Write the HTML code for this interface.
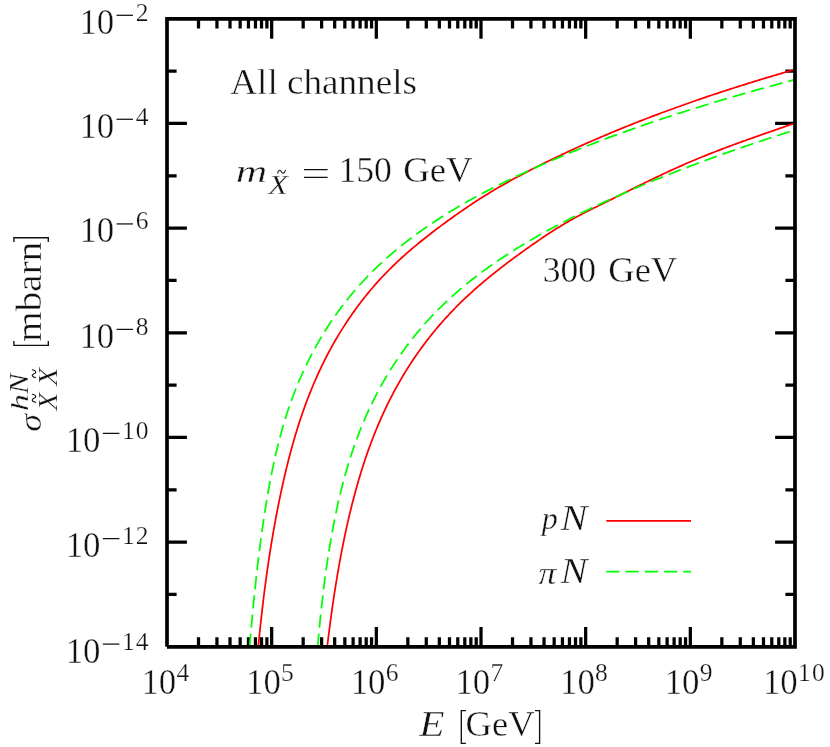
<!DOCTYPE html>
<html><head><meta charset="utf-8"><title>plot</title>
<style>html,body{margin:0;padding:0;background:#fff}svg{display:block;will-change:transform;-webkit-font-smoothing:antialiased}</style>
</head><body>
<svg width="830" height="747" viewBox="0 0 830 747">
<rect width="830" height="747" fill="#fff"/>
<defs><clipPath id="c"><rect x="167.0" y="18.8" width="628.0" height="628.0"/></clipPath></defs>
<path d="M198.51,646.8v-9.6M198.51,18.8v9.6M216.94,646.8v-9.6M216.94,18.8v9.6M230.02,646.8v-9.6M230.02,18.8v9.6M240.16,646.8v-9.6M240.16,18.8v9.6M248.45,646.8v-9.6M248.45,18.8v9.6M255.45,646.8v-9.6M255.45,18.8v9.6M261.52,646.8v-9.6M261.52,18.8v9.6M266.88,646.8v-9.6M266.88,18.8v9.6M271.67,646.8v-19.9M271.67,18.8v19.9M303.17,646.8v-9.6M303.17,18.8v9.6M321.61,646.8v-9.6M321.61,18.8v9.6M334.68,646.8v-9.6M334.68,18.8v9.6M344.83,646.8v-9.6M344.83,18.8v9.6M353.11,646.8v-9.6M353.11,18.8v9.6M360.12,646.8v-9.6M360.12,18.8v9.6M366.19,646.8v-9.6M366.19,18.8v9.6M371.54,646.8v-9.6M371.54,18.8v9.6M376.33,646.8v-19.9M376.33,18.8v19.9M407.84,646.8v-9.6M407.84,18.8v9.6M426.27,646.8v-9.6M426.27,18.8v9.6M439.35,646.8v-9.6M439.35,18.8v9.6M449.49,646.8v-9.6M449.49,18.8v9.6M457.78,646.8v-9.6M457.78,18.8v9.6M464.79,646.8v-9.6M464.79,18.8v9.6M470.86,646.8v-9.6M470.86,18.8v9.6M476.21,646.8v-9.6M476.21,18.8v9.6M481.00,646.8v-19.9M481.00,18.8v19.9M512.51,646.8v-9.6M512.51,18.8v9.6M530.94,646.8v-9.6M530.94,18.8v9.6M544.02,646.8v-9.6M544.02,18.8v9.6M554.16,646.8v-9.6M554.16,18.8v9.6M562.45,646.8v-9.6M562.45,18.8v9.6M569.45,646.8v-9.6M569.45,18.8v9.6M575.52,646.8v-9.6M575.52,18.8v9.6M580.88,646.8v-9.6M580.88,18.8v9.6M585.67,646.8v-19.9M585.67,18.8v19.9M617.17,646.8v-9.6M617.17,18.8v9.6M635.61,646.8v-9.6M635.61,18.8v9.6M648.68,646.8v-9.6M648.68,18.8v9.6M658.83,646.8v-9.6M658.83,18.8v9.6M667.11,646.8v-9.6M667.11,18.8v9.6M674.12,646.8v-9.6M674.12,18.8v9.6M680.19,646.8v-9.6M680.19,18.8v9.6M685.54,646.8v-9.6M685.54,18.8v9.6M690.33,646.8v-19.9M690.33,18.8v19.9M721.84,646.8v-9.6M721.84,18.8v9.6M740.27,646.8v-9.6M740.27,18.8v9.6M753.35,646.8v-9.6M753.35,18.8v9.6M763.49,646.8v-9.6M763.49,18.8v9.6M771.78,646.8v-9.6M771.78,18.8v9.6M778.79,646.8v-9.6M778.79,18.8v9.6M784.86,646.8v-9.6M784.86,18.8v9.6M790.21,646.8v-9.6M790.21,18.8v9.6M167.0,71.13h9.6M795.0,71.13h-9.6M167.0,123.47h19.9M795.0,123.47h-19.9M167.0,175.80h9.6M795.0,175.80h-9.6M167.0,228.13h19.9M795.0,228.13h-19.9M167.0,280.47h9.6M795.0,280.47h-9.6M167.0,332.80h19.9M795.0,332.80h-19.9M167.0,385.13h9.6M795.0,385.13h-9.6M167.0,437.47h19.9M795.0,437.47h-19.9M167.0,489.80h9.6M795.0,489.80h-9.6M167.0,542.13h19.9M795.0,542.13h-19.9M167.0,594.47h9.6M795.0,594.47h-9.6" stroke="#000" stroke-width="3.25" fill="none"/>
<g clip-path="url(#c)" fill="none" stroke-width="1.75">
<path d="M258.30,646.80 L258.43,645.37 L258.68,642.77 L258.94,640.18 L259.19,637.60 L259.45,635.01 L259.71,632.43 L259.98,629.86 L260.25,627.28 L260.52,624.72 L260.80,622.15 L261.08,619.59 L261.36,617.03 L261.65,614.47 L261.94,611.92 L262.23,609.37 L262.53,606.83 L262.83,604.29 L263.14,601.75 L263.44,599.22 L263.76,596.69 L264.07,594.16 L264.39,591.64 L264.72,589.12 L265.04,586.61 L265.38,584.10 L265.71,581.59 L266.05,579.09 L266.39,576.59 L266.74,574.09 L267.09,571.60 L267.45,569.12 L267.81,566.63 L268.17,564.16 L268.54,561.68 L268.91,559.21 L269.29,556.74 L269.67,554.28 L270.05,551.82 L270.44,549.37 L270.83,546.92 L271.23,544.48 L271.63,542.03 L272.03,539.60 L272.44,537.17 L272.86,534.74 L273.28,532.31 L273.70,529.90 L274.13,527.48 L274.56,525.07 L275.00,522.67 L275.44,520.26 L275.88,517.87 L276.33,515.48 L276.79,513.09 L277.25,510.71 L277.71,508.33 L278.18,505.95 L278.65,503.59 L279.13,501.22 L279.61,498.86 L280.10,496.51 L280.60,494.16 L281.09,491.81 L281.60,489.47 L282.10,487.14 L282.62,484.81 L283.13,482.49 L283.66,480.17 L284.19,477.86 L284.72,475.55 L285.26,473.25 L285.81,470.95 L286.36,468.66 L286.92,466.38 L287.48,464.10 L288.05,461.83 L288.63,459.56 L289.21,457.30 L289.80,455.05 L290.40,452.80 L291.00,450.56 L291.61,448.33 L292.22,446.10 L292.84,443.88 L293.47,441.67 L294.11,439.46 L294.75,437.26 L295.40,435.07 L296.06,432.88 L296.72,430.70 L297.39,428.53 L298.07,426.37 L298.76,424.21 L299.45,422.06 L300.15,419.92 L300.86,417.79 L301.58,415.67 L302.30,413.55 L303.04,411.44 L303.78,409.34 L304.53,407.25 L305.28,405.16 L306.05,403.09 L306.82,401.02 L307.61,398.96 L308.40,396.91 L309.19,394.86 L310.00,392.83 L310.82,390.80 L311.64,388.78 L312.47,386.77 L313.31,384.77 L314.16,382.78 L315.02,380.79 L315.88,378.81 L316.75,376.84 L317.64,374.88 L318.53,372.93 L319.43,370.99 L320.33,369.05 L321.25,367.13 L322.17,365.21 L323.10,363.30 L324.04,361.40 L324.99,359.50 L325.95,357.62 L326.92,355.74 L327.89,353.88 L328.88,352.02 L329.87,350.17 L330.87,348.33 L331.88,346.49 L332.89,344.67 L333.92,342.85 L334.95,341.04 L336.00,339.24 L337.05,337.45 L338.11,335.67 L339.18,333.90 L340.26,332.14 L341.34,330.38 L342.44,328.63 L343.54,326.89 L344.65,325.16 L345.77,323.44 L346.90,321.73 L348.04,320.02 L349.18,318.33 L350.34,316.64 L351.50,314.96 L352.67,313.29 L353.85,311.63 L355.04,309.97 L356.24,308.33 L357.45,306.69 L358.66,305.07 L359.88,303.45 L361.11,301.83 L362.35,300.23 L363.60,298.64 L364.86,297.05 L366.12,295.48 L367.40,293.91 L368.68,292.35 L369.97,290.80 L371.27,289.25 L372.58,287.72 L373.89,286.19 L375.22,284.68 L376.55,283.17 L377.90,281.67 L379.25,280.18 L380.61,278.70 L381.98,277.22 L383.35,275.76 L384.74,274.30 L386.13,272.85 L387.54,271.42 L388.95,269.99 L390.37,268.57 L391.80,267.15 L393.24,265.75 L394.68,264.35 L396.14,262.97 L397.60,261.58 L399.07,260.21 L400.55,258.85 L402.03,257.49 L403.53,256.14 L405.03,254.80 L406.53,253.46 L408.05,252.14 L409.57,250.81 L411.09,249.50 L412.63,248.19 L414.17,246.89 L415.72,245.59 L417.27,244.31 L418.83,243.02 L420.39,241.75 L421.96,240.47 L423.54,239.21 L425.12,237.95 L426.71,236.69 L428.30,235.45 L429.90,234.20 L431.50,232.96 L433.11,231.73 L434.73,230.50 L436.34,229.27 L437.97,228.05 L439.59,226.84 L441.22,225.63 L442.86,224.42 L444.50,223.22 L446.14,222.02 L447.79,220.82 L449.44,219.63 L451.09,218.44 L452.75,217.26 L454.41,216.07 L456.07,214.90 L457.74,213.72 L459.41,212.55 L461.08,211.38 L462.76,210.22 L464.45,209.06 L466.13,207.91 L467.83,206.76 L469.52,205.61 L471.23,204.47 L472.93,203.34 L474.65,202.21 L476.37,201.09 L478.09,199.97 L479.82,198.86 L481.56,197.75 L483.30,196.65 L485.05,195.56 L486.80,194.47 L488.56,193.39 L490.33,192.31 L492.10,191.24 L493.88,190.18 L495.66,189.12 L497.46,188.07 L499.25,187.03 L501.05,185.98 L502.86,184.95 L504.67,183.92 L506.49,182.90 L508.31,181.88 L510.14,180.86 L511.97,179.85 L513.81,178.85 L515.65,177.85 L517.50,176.85 L519.35,175.86 L521.21,174.88 L523.07,173.89 L524.93,172.92 L526.80,171.94 L528.67,170.97 L530.55,170.01 L532.43,169.05 L534.31,168.09 L536.20,167.13 L538.09,166.18 L539.99,165.23 L541.88,164.29 L543.78,163.35 L545.69,162.41 L547.60,161.47 L549.51,160.54 L551.42,159.61 L553.34,158.69 L555.25,157.77 L557.18,156.85 L559.10,155.93 L561.03,155.02 L562.96,154.11 L564.90,153.20 L566.84,152.29 L568.78,151.39 L570.72,150.50 L572.67,149.60 L574.62,148.71 L576.57,147.82 L578.53,146.93 L580.49,146.05 L582.45,145.17 L584.41,144.29 L586.38,143.42 L588.35,142.55 L590.33,141.68 L592.30,140.81 L594.28,139.95 L596.26,139.09 L598.25,138.23 L600.24,137.38 L602.23,136.53 L604.22,135.68 L606.22,134.83 L608.22,133.99 L610.22,133.15 L612.23,132.31 L614.23,131.48 L616.24,130.65 L618.26,129.82 L620.27,128.99 L622.29,128.17 L624.31,127.35 L626.34,126.53 L628.37,125.72 L630.40,124.91 L632.43,124.10 L634.46,123.29 L636.50,122.49 L638.54,121.68 L640.59,120.89 L642.63,120.09 L644.68,119.30 L646.73,118.50 L648.78,117.72 L650.84,116.93 L652.90,116.15 L654.96,115.37 L657.03,114.59 L659.09,113.81 L661.16,113.04 L663.23,112.27 L665.31,111.50 L667.39,110.74 L669.47,109.98 L671.55,109.22 L673.63,108.46 L675.72,107.70 L677.81,106.95 L679.90,106.20 L682.00,105.45 L684.09,104.71 L686.19,103.97 L688.29,103.22 L690.40,102.49 L692.50,101.75 L694.61,101.02 L696.72,100.29 L698.84,99.56 L700.95,98.83 L703.07,98.11 L705.19,97.39 L707.32,96.67 L709.44,95.95 L711.57,95.24 L713.70,94.53 L715.83,93.82 L717.97,93.11 L720.10,92.40 L722.24,91.70 L724.38,91.00 L726.53,90.30 L728.67,89.61 L730.82,88.91 L732.97,88.22 L735.13,87.53 L737.28,86.84 L739.44,86.16 L741.60,85.48 L743.76,84.80 L745.92,84.12 L748.09,83.44 L750.26,82.77 L752.43,82.09 L754.60,81.42 L756.77,80.76 L758.95,80.09 L761.13,79.43 L763.31,78.76 L765.49,78.10 L767.67,77.45 L769.86,76.79 L772.05,76.14 L774.24,75.49 L776.43,74.84 L778.63,74.19 L780.82,73.54 L783.02,72.90 L785.22,72.26 L787.42,71.62 L789.63,70.98 L791.83,70.35 L794.04,69.71 L795.00,69.44" stroke="#ff0000"/>
<path d="M249.62,646.80 L249.75,645.20 L249.97,642.58 L250.19,639.96 L250.41,637.35 L250.64,634.73 L250.86,632.12 L251.09,629.51 L251.32,626.91 L251.56,624.30 L251.79,621.70 L252.03,619.10 L252.27,616.51 L252.52,613.91 L252.76,611.32 L253.01,608.73 L253.26,606.14 L253.51,603.56 L253.77,600.98 L254.03,598.40 L254.29,595.82 L254.56,593.25 L254.82,590.68 L255.09,588.11 L255.37,585.54 L255.64,582.98 L255.92,580.42 L256.20,577.87 L256.49,575.31 L256.78,572.77 L257.07,570.22 L257.36,567.68 L257.66,565.14 L257.96,562.60 L258.27,560.07 L258.57,557.54 L258.88,555.01 L259.20,552.49 L259.52,549.97 L259.84,547.45 L260.16,544.94 L260.49,542.43 L260.83,539.92 L261.16,537.42 L261.50,534.92 L261.85,532.43 L262.19,529.94 L262.55,527.45 L262.90,524.97 L263.26,522.49 L263.62,520.02 L263.99,517.55 L264.37,515.08 L264.74,512.62 L265.13,510.17 L265.51,507.72 L265.91,505.27 L266.30,502.83 L266.71,500.40 L267.11,497.97 L267.53,495.54 L267.95,493.13 L268.37,490.71 L268.80,488.31 L269.24,485.90 L269.68,483.51 L270.13,481.12 L270.59,478.74 L271.05,476.36 L271.52,473.99 L271.99,471.63 L272.48,469.28 L272.97,466.93 L273.46,464.59 L273.97,462.25 L274.48,459.93 L275.00,457.61 L275.52,455.29 L276.06,452.99 L276.60,450.69 L277.15,448.41 L277.70,446.12 L278.27,443.85 L278.84,441.59 L279.43,439.33 L280.02,437.09 L280.62,434.85 L281.23,432.62 L281.84,430.40 L282.47,428.19 L283.11,425.99 L283.75,423.79 L284.40,421.61 L285.07,419.44 L285.74,417.27 L286.43,415.12 L287.12,412.97 L287.82,410.84 L288.53,408.71 L289.26,406.59 L289.99,404.49 L290.73,402.39 L291.48,400.30 L292.24,398.23 L293.01,396.16 L293.79,394.10 L294.58,392.05 L295.38,390.01 L296.18,387.98 L297.00,385.96 L297.83,383.95 L298.66,381.95 L299.51,379.96 L300.37,377.98 L301.23,376.00 L302.10,374.04 L302.99,372.08 L303.88,370.14 L304.78,368.20 L305.69,366.28 L306.61,364.36 L307.54,362.45 L308.48,360.55 L309.43,358.66 L310.39,356.78 L311.36,354.91 L312.33,353.05 L313.32,351.20 L314.31,349.36 L315.32,347.52 L316.33,345.70 L317.35,343.88 L318.38,342.07 L319.42,340.28 L320.47,338.49 L321.53,336.71 L322.60,334.94 L323.68,333.18 L324.76,331.43 L325.86,329.68 L326.96,327.95 L328.07,326.22 L329.20,324.51 L330.33,322.80 L331.47,321.10 L332.62,319.41 L333.77,317.73 L334.94,316.06 L336.11,314.40 L337.30,312.75 L338.49,311.10 L339.69,309.47 L340.90,307.84 L342.12,306.22 L343.35,304.61 L344.59,303.01 L345.84,301.42 L347.09,299.84 L348.35,298.26 L349.63,296.70 L350.91,295.14 L352.20,293.59 L353.49,292.05 L354.80,290.52 L356.12,289.00 L357.44,287.48 L358.77,285.98 L360.12,284.48 L361.47,282.99 L362.82,281.51 L364.19,280.04 L365.57,278.58 L366.95,277.13 L368.34,275.68 L369.74,274.25 L371.15,272.82 L372.57,271.40 L374.00,269.99 L375.43,268.58 L376.88,267.19 L378.33,265.80 L379.79,264.42 L381.26,263.05 L382.73,261.69 L384.22,260.34 L385.71,258.99 L387.21,257.66 L388.72,256.33 L390.23,255.00 L391.75,253.69 L393.29,252.38 L394.82,251.08 L396.37,249.79 L397.92,248.51 L399.49,247.23 L401.05,245.96 L402.63,244.70 L404.21,243.44 L405.80,242.20 L407.40,240.96 L409.01,239.72 L410.62,238.50 L412.24,237.28 L413.86,236.07 L415.50,234.86 L417.13,233.66 L418.78,232.47 L420.43,231.29 L422.09,230.11 L423.76,228.94 L425.43,227.77 L427.11,226.61 L428.80,225.46 L430.49,224.31 L432.19,223.17 L433.89,222.04 L435.60,220.91 L437.32,219.79 L439.04,218.68 L440.77,217.57 L442.50,216.47 L444.24,215.37 L445.99,214.28 L447.74,213.19 L449.50,212.11 L451.26,211.04 L453.03,209.97 L454.81,208.90 L456.59,207.85 L458.37,206.79 L460.17,205.75 L461.96,204.71 L463.76,203.67 L465.57,202.64 L467.38,201.61 L469.20,200.59 L471.02,199.58 L472.85,198.56 L474.68,197.56 L476.52,196.56 L478.36,195.56 L480.20,194.57 L482.05,193.58 L483.91,192.60 L485.77,191.62 L487.63,190.65 L489.50,189.68 L491.38,188.71 L493.25,187.75 L495.13,186.80 L497.02,185.85 L498.91,184.90 L500.80,183.95 L502.70,183.01 L504.61,182.08 L506.51,181.15 L508.42,180.22 L510.33,179.30 L512.25,178.37 L514.17,177.46 L516.10,176.55 L518.03,175.64 L519.96,174.73 L521.89,173.83 L523.83,172.93 L525.77,172.03 L527.72,171.14 L529.67,170.25 L531.62,169.36 L533.57,168.48 L535.53,167.60 L537.49,166.72 L539.46,165.85 L541.43,164.98 L543.40,164.11 L545.37,163.25 L547.35,162.39 L549.33,161.53 L551.31,160.68 L553.30,159.82 L555.28,158.97 L557.28,158.13 L559.27,157.29 L561.27,156.45 L563.27,155.61 L565.28,154.78 L567.28,153.94 L569.29,153.12 L571.30,152.29 L573.32,151.47 L575.34,150.65 L577.36,149.83 L579.39,149.02 L581.41,148.21 L583.44,147.40 L585.48,146.60 L587.51,145.80 L589.55,145.00 L591.59,144.20 L593.64,143.41 L595.68,142.62 L597.73,141.83 L599.79,141.04 L601.84,140.26 L603.90,139.48 L605.96,138.70 L608.02,137.93 L610.09,137.16 L612.16,136.39 L614.23,135.62 L616.30,134.86 L618.38,134.10 L620.46,133.34 L622.54,132.58 L624.62,131.83 L626.71,131.08 L628.80,130.33 L630.89,129.58 L632.99,128.84 L635.08,128.10 L637.18,127.36 L639.29,126.62 L641.39,125.89 L643.50,125.16 L645.61,124.43 L647.72,123.70 L649.83,122.98 L651.95,122.26 L654.07,121.54 L656.19,120.82 L658.31,120.11 L660.44,119.40 L662.57,118.69 L664.70,117.98 L666.83,117.28 L668.97,116.57 L671.10,115.87 L673.24,115.18 L675.38,114.48 L677.53,113.79 L679.68,113.09 L681.82,112.41 L683.97,111.72 L686.13,111.03 L688.28,110.35 L690.44,109.67 L692.60,108.99 L694.76,108.32 L696.93,107.64 L699.09,106.97 L701.26,106.30 L703.43,105.63 L705.60,104.97 L707.78,104.30 L709.95,103.64 L712.13,102.98 L714.31,102.32 L716.49,101.67 L718.68,101.01 L720.86,100.36 L723.05,99.71 L725.24,99.06 L727.43,98.42 L729.63,97.77 L731.82,97.13 L734.02,96.49 L736.22,95.85 L738.42,95.22 L740.62,94.58 L742.83,93.95 L745.03,93.32 L747.24,92.69 L749.45,92.06 L751.67,91.44 L753.88,90.81 L756.09,90.19 L758.31,89.57 L760.53,88.95 L762.75,88.33 L764.97,87.72 L767.20,87.10 L769.42,86.49 L771.65,85.88 L773.88,85.27 L776.11,84.67 L778.34,84.06 L780.58,83.46 L782.81,82.85 L785.05,82.25 L787.29,81.65 L789.53,81.06 L791.77,80.46 L794.01,79.86 L795.00,79.60" stroke="#00ff00" stroke-dasharray="13.2 6.04"/>
<path d="M327.17,646.80 L327.44,644.56 L327.72,642.30 L328.00,640.04 L328.28,637.78 L328.56,635.53 L328.85,633.28 L329.14,631.03 L329.43,628.78 L329.72,626.54 L330.02,624.30 L330.32,622.06 L330.62,619.82 L330.92,617.59 L331.23,615.36 L331.54,613.13 L331.85,610.91 L332.17,608.68 L332.49,606.47 L332.81,604.25 L333.13,602.04 L333.46,599.83 L333.79,597.62 L334.13,595.42 L334.46,593.22 L334.80,591.02 L335.15,588.83 L335.49,586.64 L335.85,584.45 L336.20,582.27 L336.56,580.09 L336.92,577.91 L337.28,575.74 L337.65,573.57 L338.02,571.40 L338.40,569.24 L338.78,567.08 L339.16,564.93 L339.54,562.78 L339.93,560.63 L340.33,558.49 L340.73,556.35 L341.13,554.21 L341.53,552.08 L341.94,549.95 L342.36,547.83 L342.78,545.71 L343.20,543.60 L343.63,541.48 L344.06,539.38 L344.49,537.28 L344.93,535.18 L345.38,533.08 L345.82,531.00 L346.28,528.91 L346.73,526.83 L347.20,524.76 L347.66,522.68 L348.13,520.62 L348.61,518.56 L349.09,516.50 L349.57,514.45 L350.06,512.40 L350.56,510.36 L351.06,508.32 L351.56,506.29 L352.07,504.26 L352.59,502.24 L353.11,500.22 L353.63,498.20 L354.16,496.20 L354.70,494.19 L355.24,492.20 L355.78,490.21 L356.33,488.22 L356.89,486.24 L357.45,484.26 L358.02,482.29 L358.59,480.33 L359.17,478.37 L359.75,476.41 L360.34,474.46 L360.93,472.52 L361.53,470.58 L362.14,468.65 L362.75,466.73 L363.37,464.81 L363.99,462.89 L364.62,460.98 L365.25,459.08 L365.89,457.18 L366.54,455.29 L367.19,453.41 L367.85,451.53 L368.52,449.66 L369.19,447.79 L369.87,445.93 L370.55,444.08 L371.24,442.23 L371.94,440.39 L372.64,438.56 L373.35,436.73 L374.06,434.91 L374.79,433.09 L375.51,431.28 L376.25,429.48 L376.99,427.68 L377.74,425.89 L378.49,424.11 L379.26,422.34 L380.02,420.57 L380.80,418.81 L381.58,417.05 L382.37,415.30 L383.16,413.56 L383.97,411.82 L384.77,410.09 L385.59,408.37 L386.41,406.66 L387.24,404.95 L388.07,403.24 L388.92,401.55 L389.76,399.86 L390.62,398.18 L391.48,396.50 L392.35,394.83 L393.22,393.17 L394.11,391.51 L394.99,389.86 L395.89,388.22 L396.79,386.59 L397.70,384.96 L398.61,383.33 L399.53,381.72 L400.46,380.11 L401.40,378.50 L402.34,376.91 L403.28,375.32 L404.24,373.74 L405.20,372.16 L406.17,370.59 L407.14,369.03 L408.12,367.47 L409.11,365.92 L410.10,364.38 L411.10,362.84 L412.11,361.31 L413.13,359.79 L414.15,358.27 L415.17,356.76 L416.21,355.26 L417.25,353.76 L418.29,352.27 L419.35,350.78 L420.41,349.31 L421.47,347.84 L422.55,346.37 L423.63,344.91 L424.71,343.46 L425.81,342.02 L426.90,340.58 L428.01,339.15 L429.12,337.72 L430.24,336.31 L431.37,334.89 L432.50,333.49 L433.64,332.09 L434.78,330.70 L435.93,329.31 L437.09,327.93 L438.25,326.56 L439.42,325.19 L440.60,323.83 L441.78,322.47 L442.97,321.13 L444.17,319.78 L445.37,318.45 L446.58,317.12 L447.79,315.80 L449.02,314.48 L450.24,313.17 L451.48,311.87 L452.72,310.57 L453.96,309.28 L455.22,308.00 L456.48,306.72 L457.74,305.45 L459.01,304.18 L460.29,302.92 L461.58,301.67 L462.87,300.42 L464.16,299.18 L465.47,297.95 L466.77,296.72 L468.09,295.49 L469.41,294.28 L470.73,293.06 L472.06,291.86 L473.40,290.66 L474.74,289.46 L476.09,288.27 L477.44,287.09 L478.80,285.91 L480.16,284.73 L481.53,283.56 L482.90,282.40 L484.28,281.24 L485.66,280.08 L487.05,278.93 L488.44,277.78 L489.83,276.64 L491.23,275.50 L492.64,274.37 L494.04,273.24 L495.46,272.11 L496.87,270.99 L498.29,269.88 L499.72,268.76 L501.14,267.65 L502.57,266.55 L504.01,265.44 L505.45,264.35 L506.89,263.25 L508.34,262.16 L509.78,261.07 L511.24,259.98 L512.69,258.90 L514.15,257.82 L515.61,256.75 L517.07,255.67 L518.54,254.60 L520.01,253.53 L521.48,252.47 L522.95,251.40 L524.43,250.34 L525.91,249.28 L527.39,248.23 L528.87,247.17 L530.36,246.12 L531.85,245.07 L533.34,244.03 L534.84,242.99 L536.34,241.95 L537.84,240.91 L539.34,239.88 L540.86,238.86 L542.37,237.83 L543.89,236.81 L545.41,235.80 L546.94,234.79 L548.47,233.78 L550.01,232.78 L551.55,231.79 L553.10,230.80 L554.65,229.81 L556.21,228.83 L557.77,227.86 L559.34,226.89 L560.91,225.93 L562.50,224.97 L564.08,224.02 L565.68,223.08 L567.28,222.14 L568.89,221.21 L570.50,220.29 L572.12,219.38 L573.75,218.47 L575.39,217.57 L577.03,216.67 L578.68,215.79 L580.34,214.91 L582.01,214.04 L583.68,213.17 L585.36,212.32 L587.05,211.46 L588.73,210.62 L590.43,209.77 L592.12,208.93 L593.82,208.09 L595.52,207.25 L597.22,206.42 L598.92,205.58 L600.62,204.74 L602.32,203.90 L604.02,203.06 L605.71,202.22 L607.41,201.38 L609.10,200.54 L610.80,199.69 L612.49,198.85 L614.18,198.01 L615.88,197.16 L617.57,196.32 L619.26,195.47 L620.96,194.63 L622.65,193.79 L624.35,192.94 L626.04,192.10 L627.73,191.26 L629.43,190.41 L631.13,189.57 L632.82,188.73 L634.52,187.89 L636.22,187.05 L637.92,186.21 L639.62,185.38 L641.32,184.54 L643.02,183.71 L644.73,182.87 L646.43,182.04 L648.14,181.21 L649.85,180.38 L651.56,179.56 L653.27,178.73 L654.99,177.91 L656.70,177.09 L658.42,176.27 L660.14,175.46 L661.87,174.64 L663.59,173.83 L665.32,173.02 L667.05,172.22 L668.79,171.41 L670.52,170.61 L672.26,169.82 L674.01,169.02 L675.75,168.23 L677.50,167.44 L679.26,166.66 L681.01,165.88 L682.77,165.10 L684.54,164.32 L686.30,163.55 L688.07,162.79 L689.85,162.03 L691.63,161.27 L693.41,160.51 L695.20,159.76 L696.99,159.02 L698.78,158.27 L700.58,157.53 L702.38,156.80 L704.19,156.07 L706.00,155.34 L707.81,154.61 L709.62,153.89 L711.44,153.17 L713.27,152.46 L715.09,151.75 L716.92,151.04 L718.75,150.33 L720.59,149.63 L722.42,148.93 L724.26,148.23 L726.10,147.54 L727.95,146.84 L729.80,146.15 L731.65,145.47 L733.50,144.78 L735.35,144.10 L737.21,143.42 L739.07,142.74 L740.93,142.06 L742.80,141.39 L744.66,140.72 L746.53,140.05 L748.40,139.38 L750.27,138.71 L752.14,138.05 L754.01,137.38 L755.89,136.72 L757.76,136.06 L759.64,135.40 L761.52,134.74 L763.40,134.08 L765.28,133.43 L767.16,132.77 L769.04,132.12 L770.93,131.46 L772.81,130.81 L774.70,130.16 L776.58,129.51 L778.47,128.85 L780.36,128.20 L782.24,127.55 L784.13,126.90 L786.02,126.25 L787.91,125.60 L789.79,124.95 L791.68,124.30 L793.57,123.65 L795.00,123.16" stroke="#ff0000"/>
<path d="M317.68,646.80 L317.69,646.62 L317.89,644.28 L318.10,641.94 L318.31,639.60 L318.52,637.27 L318.73,634.94 L318.95,632.61 L319.16,630.28 L319.38,627.96 L319.61,625.64 L319.84,623.32 L320.07,621.01 L320.30,618.70 L320.53,616.39 L320.77,614.09 L321.02,611.79 L321.26,609.49 L321.51,607.19 L321.76,604.90 L322.02,602.61 L322.28,600.33 L322.54,598.05 L322.80,595.77 L323.07,593.50 L323.35,591.23 L323.62,588.96 L323.91,586.70 L324.19,584.44 L324.48,582.18 L324.77,579.93 L325.07,577.68 L325.37,575.44 L325.67,573.20 L325.98,570.97 L326.29,568.74 L326.61,566.51 L326.93,564.29 L327.26,562.07 L327.59,559.86 L327.92,557.65 L328.26,555.44 L328.60,553.24 L328.95,551.05 L329.31,548.86 L329.66,546.67 L330.03,544.49 L330.39,542.31 L330.77,540.14 L331.14,537.98 L331.52,535.81 L331.91,533.66 L332.30,531.51 L332.70,529.36 L333.10,527.22 L333.51,525.08 L333.92,522.95 L334.34,520.83 L334.77,518.71 L335.20,516.59 L335.63,514.48 L336.07,512.38 L336.52,510.28 L336.97,508.19 L337.43,506.11 L337.89,504.03 L338.36,501.95 L338.83,499.88 L339.32,497.82 L339.80,495.76 L340.30,493.71 L340.80,491.67 L341.30,489.63 L341.81,487.60 L342.33,485.57 L342.85,483.55 L343.38,481.54 L343.92,479.53 L344.46,477.53 L345.01,475.54 L345.57,473.55 L346.13,471.57 L346.70,469.60 L347.28,467.63 L347.86,465.67 L348.45,463.72 L349.05,461.77 L349.66,459.83 L350.27,457.90 L350.88,455.97 L351.51,454.05 L352.14,452.14 L352.78,450.24 L353.43,448.34 L354.08,446.45 L354.74,444.57 L355.41,442.70 L356.09,440.83 L356.77,438.97 L357.47,437.12 L358.16,435.27 L358.87,433.43 L359.58,431.60 L360.30,429.78 L361.03,427.96 L361.77,426.16 L362.51,424.36 L363.26,422.56 L364.02,420.77 L364.78,419.00 L365.55,417.22 L366.33,415.46 L367.12,413.70 L367.91,411.95 L368.71,410.21 L369.52,408.47 L370.33,406.74 L371.15,405.02 L371.98,403.31 L372.82,401.60 L373.66,399.90 L374.52,398.21 L375.37,396.52 L376.24,394.84 L377.11,393.17 L377.99,391.51 L378.88,389.85 L379.77,388.20 L380.67,386.56 L381.58,384.92 L382.49,383.29 L383.42,381.67 L384.35,380.06 L385.28,378.45 L386.23,376.85 L387.18,375.26 L388.13,373.67 L389.10,372.09 L390.07,370.52 L391.05,368.95 L392.03,367.40 L393.03,365.85 L394.02,364.30 L395.03,362.76 L396.04,361.23 L397.06,359.71 L398.09,358.19 L399.13,356.69 L400.17,355.18 L401.22,353.69 L402.27,352.20 L403.33,350.72 L404.40,349.24 L405.48,347.77 L406.56,346.31 L407.65,344.86 L408.75,343.41 L409.85,341.97 L410.96,340.54 L412.08,339.11 L413.20,337.69 L414.33,336.28 L415.47,334.87 L416.61,333.47 L417.76,332.08 L418.92,330.69 L420.08,329.31 L421.26,327.94 L422.43,326.58 L423.62,325.22 L424.81,323.87 L426.01,322.52 L427.21,321.18 L428.42,319.85 L429.64,318.52 L430.87,317.21 L432.10,315.89 L433.34,314.59 L434.58,313.29 L435.84,312.00 L437.09,310.71 L438.36,309.43 L439.63,308.16 L440.91,306.90 L442.19,305.64 L443.49,304.39 L444.78,303.14 L446.09,301.90 L447.40,300.67 L448.72,299.44 L450.04,298.23 L451.37,297.01 L452.71,295.81 L454.05,294.61 L455.40,293.41 L456.76,292.22 L458.12,291.04 L459.49,289.87 L460.87,288.70 L462.25,287.54 L463.63,286.38 L465.03,285.23 L466.42,284.08 L467.83,282.94 L469.24,281.81 L470.65,280.68 L472.08,279.56 L473.50,278.45 L474.94,277.33 L476.37,276.23 L477.82,275.13 L479.27,274.04 L480.72,272.95 L482.18,271.86 L483.65,270.79 L485.12,269.71 L486.60,268.65 L488.08,267.58 L489.56,266.53 L491.05,265.47 L492.55,264.43 L494.05,263.38 L495.56,262.35 L497.07,261.31 L498.59,260.29 L500.11,259.26 L501.63,258.25 L503.16,257.23 L504.70,256.22 L506.24,255.22 L507.78,254.22 L509.33,253.22 L510.88,252.23 L512.44,251.24 L514.00,250.26 L515.56,249.28 L517.13,248.31 L518.71,247.34 L520.28,246.37 L521.87,245.41 L523.45,244.46 L525.04,243.50 L526.64,242.55 L528.23,241.61 L529.84,240.66 L531.44,239.73 L533.05,238.79 L534.66,237.86 L536.28,236.93 L537.90,236.01 L539.52,235.09 L541.15,234.17 L542.78,233.26 L544.41,232.35 L546.05,231.44 L547.69,230.54 L549.33,229.64 L550.98,228.74 L552.63,227.85 L554.28,226.96 L555.94,226.07 L557.60,225.18 L559.26,224.30 L560.92,223.42 L562.59,222.55 L564.26,221.68 L565.94,220.81 L567.62,219.94 L569.30,219.08 L570.98,218.22 L572.67,217.36 L574.36,216.51 L576.05,215.66 L577.74,214.81 L579.44,213.96 L581.14,213.12 L582.85,212.28 L584.55,211.44 L586.26,210.61 L587.97,209.78 L589.69,208.95 L591.41,208.12 L593.13,207.30 L594.85,206.48 L596.57,205.66 L598.30,204.84 L600.03,204.03 L601.77,203.22 L603.50,202.41 L605.24,201.61 L606.98,200.80 L608.73,200.01 L610.47,199.21 L612.22,198.41 L613.97,197.62 L615.73,196.83 L617.48,196.04 L619.24,195.26 L621.00,194.47 L622.76,193.69 L624.53,192.92 L626.30,192.14 L628.07,191.37 L629.84,190.60 L631.62,189.83 L633.39,189.06 L635.17,188.30 L636.95,187.54 L638.74,186.78 L640.52,186.02 L642.31,185.26 L644.10,184.51 L645.90,183.76 L647.69,183.01 L649.49,182.27 L651.29,181.52 L653.09,180.78 L654.90,180.04 L656.70,179.30 L658.51,178.57 L660.32,177.84 L662.13,177.10 L663.95,176.38 L665.76,175.65 L667.58,174.92 L669.40,174.20 L671.23,173.48 L673.05,172.76 L674.88,172.04 L676.71,171.33 L678.54,170.62 L680.37,169.91 L682.21,169.20 L684.04,168.49 L685.88,167.79 L687.72,167.08 L689.57,166.38 L691.41,165.68 L693.26,164.99 L695.11,164.29 L696.96,163.60 L698.81,162.91 L700.66,162.22 L702.52,161.53 L704.37,160.84 L706.23,160.16 L708.10,159.48 L709.96,158.79 L711.82,158.12 L713.69,157.44 L715.56,156.76 L717.43,156.09 L719.30,155.42 L721.17,154.75 L723.05,154.08 L724.92,153.41 L726.80,152.75 L728.68,152.08 L730.56,151.42 L732.45,150.76 L734.33,150.10 L736.22,149.44 L738.11,148.79 L740.00,148.13 L741.89,147.48 L743.78,146.83 L745.67,146.18 L747.57,145.53 L749.47,144.89 L751.36,144.24 L753.26,143.60 L755.17,142.96 L757.07,142.32 L758.97,141.68 L760.88,141.04 L762.79,140.40 L764.70,139.77 L766.61,139.13 L768.52,138.50 L770.43,137.87 L772.34,137.24 L774.26,136.61 L776.18,135.99 L778.10,135.36 L780.02,134.74 L781.94,134.12 L783.86,133.49 L785.78,132.87 L787.71,132.25 L789.63,131.64 L791.56,131.02 L793.49,130.41 L795.00,129.92" stroke="#00ff00" stroke-dasharray="13.2 6.04"/>
</g>
<path d="M167.0,646.8H795.0V18.8H167.0V646.8" fill="none" stroke="#000" stroke-width="3.7" stroke-linejoin="miter" stroke-linecap="butt"/>
<path d="M606.3,520.9H691" stroke="#ff0000" stroke-width="1.75"/>
<path d="M606.3,571.5H691" stroke="#00ff00" stroke-width="1.75" stroke-dasharray="13.2 6.04"/>
<g font-family="'Liberation Serif', serif" fill="#111111" font-size="34.8" stroke="#fff" stroke-width="0.4" paint-order="fill stroke">
<text x="176.20" y="693.7" text-anchor="end">10</text>
<text x="176.40" y="681.0" font-size="25.5" stroke-width="0.25">4</text>
<text x="280.87" y="693.7" text-anchor="end">10</text>
<text x="281.07" y="681.0" font-size="25.5" stroke-width="0.25">5</text>
<text x="385.53" y="693.7" text-anchor="end">10</text>
<text x="385.73" y="681.0" font-size="25.5" stroke-width="0.25">6</text>
<text x="490.20" y="693.7" text-anchor="end">10</text>
<text x="490.40" y="681.0" font-size="25.5" stroke-width="0.25">7</text>
<text x="594.87" y="693.7" text-anchor="end">10</text>
<text x="595.07" y="681.0" font-size="25.5" stroke-width="0.25">8</text>
<text x="699.53" y="693.7" text-anchor="end">10</text>
<text x="699.73" y="681.0" font-size="25.5" stroke-width="0.25">9</text>
<text x="797.70" y="693.7" text-anchor="end">10</text>
<text x="798.00" y="681.0" font-size="25.5" stroke-width="0.25" letter-spacing="1.2">10</text>
<text x="114.2" y="33.70" text-anchor="end">10</text>
<path d="M116.6,15.30H133.0" stroke="#111111" stroke-width="1.25"/>
<text x="148.6" y="20.80" text-anchor="end" font-size="25.5" stroke-width="0.25">2</text>
<text x="114.2" y="137.67" text-anchor="end">10</text>
<path d="M116.6,119.27H133.0" stroke="#111111" stroke-width="1.25"/>
<text x="148.6" y="124.77" text-anchor="end" font-size="25.5" stroke-width="0.25">4</text>
<text x="114.2" y="242.33" text-anchor="end">10</text>
<path d="M116.6,223.93H133.0" stroke="#111111" stroke-width="1.25"/>
<text x="148.6" y="229.43" text-anchor="end" font-size="25.5" stroke-width="0.25">6</text>
<text x="114.2" y="347.80" text-anchor="end">10</text>
<path d="M116.6,329.40H133.0" stroke="#111111" stroke-width="1.25"/>
<text x="148.6" y="334.90" text-anchor="end" font-size="25.5" stroke-width="0.25">8</text>
<text x="100.5" y="451.77" text-anchor="end">10</text>
<path d="M102.8,433.37H119.4" stroke="#111111" stroke-width="1.25"/>
<text x="149.79999999999998" y="438.87" text-anchor="end" font-size="25.5" stroke-width="0.25" letter-spacing="1.2">10</text>
<text x="100.5" y="557.03" text-anchor="end">10</text>
<path d="M102.8,538.63H119.4" stroke="#111111" stroke-width="1.25"/>
<text x="149.79999999999998" y="544.13" text-anchor="end" font-size="25.5" stroke-width="0.25" letter-spacing="1.2">12</text>
<text x="100.5" y="662.50" text-anchor="end">10</text>
<path d="M102.8,644.10H119.4" stroke="#111111" stroke-width="1.25"/>
<text x="149.79999999999998" y="649.60" text-anchor="end" font-size="25.5" stroke-width="0.25" letter-spacing="1.2">14</text>
<text transform="translate(230.23,93.80) scale(1.0680,1.0250)">All channels</text>
<text transform="translate(235.73,182.20) scale(1.2533,0.8800)" font-style="italic">m</text>
<text transform="translate(268.35,193.50) scale(1.2706,1.0388)" font-style="italic" font-size="25.5" stroke-width="0.25">X</text>
<path d="M277.60,173.05C278.52,169.27 280.53,169.67 281.45,171.70S284.38,174.13 285.30,170.35" fill="none" stroke="#111111" stroke-width="1.05" stroke-linecap="round"/>
<path d="M304,169.6H327.6M304,177.3H327.6" stroke="#111111" stroke-width="1.3"/>
<text transform="translate(338.53,182.00) scale(1.0229,1.0348)">150</text>
<text transform="translate(403.21,182.00) scale(1.0573,1.0000)">GeV</text>
<text transform="translate(542.81,282.40) scale(1.0213,1.0348)">300</text>
<text transform="translate(608.22,282.40) scale(1.0510,1.0000)">GeV</text>
<text transform="translate(541.65,529.30) scale(0.9260,0.9200)" font-style="italic">p</text>
<text transform="translate(560.49,529.50) scale(1.1560,1.0330)" font-style="italic">N</text>
<text transform="translate(538.44,583.70) scale(1.0222,0.9000)" font-style="italic">π</text>
<text transform="translate(560.49,583.30) scale(1.1560,1.0374)" font-style="italic">N</text>
<text transform="translate(419.20,735.80) scale(1.1906,1.0066)" font-style="italic">E</text>
<path d="M465.90,710.60H461.30V743.40H465.90" fill="none" stroke="#111111" stroke-width="1.35"/>
<text transform="translate(465.62,735.80) scale(1.0510,1.0000)">GeV</text>
<path d="M535.00,710.60H539.60V743.40H535.00" fill="none" stroke="#111111" stroke-width="1.35"/>
<g transform="translate(40.9,346) rotate(-90)">
<path d="M5.00,-27.00H0.60V7.40H5.00" fill="none" stroke="#111111" stroke-width="1.35"/>
<text transform="translate(4.36,0.00) scale(1.1246,1.0000)">mbarn</text>
<path d="M103.90,-27.00H108.30V7.40H103.90" fill="none" stroke="#111111" stroke-width="1.35"/>
</g>
<g transform="translate(40.9,430.6) rotate(-90)">
<text transform="translate(-1.04,0.00) scale(1.0377,0.9000)" font-style="italic">σ</text>
<text transform="translate(19.45,-12.90) scale(1.3488,1.0028)" font-style="italic" font-size="25.5" stroke-width="0.25">h</text>
<text transform="translate(36.60,-12.90) scale(1.2054,1.0627)" font-style="italic" font-size="25.5" stroke-width="0.25">N</text>
<text transform="translate(20.06,15.80) scale(1.1471,1.0507)" font-style="italic" font-size="25.5" stroke-width="0.25">X</text>
<text transform="translate(44.69,15.80) scale(1.1882,1.0507)" font-style="italic" font-size="25.5" stroke-width="0.25">X</text>
<path d="M28.30,-5.30C29.26,-9.78 31.34,-9.30 32.30,-6.90S35.34,-4.02 36.30,-8.50" fill="none" stroke="#111111" stroke-width="1.15" stroke-linecap="round"/>
<path d="M52.90,-5.30C53.85,-9.78 55.90,-9.30 56.85,-6.90S59.85,-4.02 60.80,-8.50" fill="none" stroke="#111111" stroke-width="1.15" stroke-linecap="round"/>
</g>
</g>
</svg>
</body></html>
